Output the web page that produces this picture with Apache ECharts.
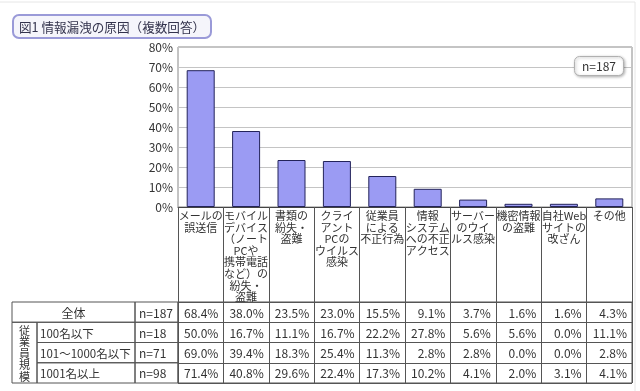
<!DOCTYPE html>
<html><head><meta charset="utf-8">
<script src="https://cdn.jsdelivr.net/npm/echarts@6/dist/echarts.min.js"></script>
<style>html,body{margin:0;padding:0;background:#fff}#c{width:640px;height:391px}</style>
</head><body><div id="c"></div>
<script>
// ---- data ----
const categories = [
  'メールの\n誤送信',
  'モバイル\nデバイス\n（ノート\nPCや\n携帯電話\nなど）の\n紛失・\n盗難',
  '書類の\n紛失・\n盗難',
  'クライ\nアント\nPCの\nウイルス\n感染',
  '従業員\nによる\n不正行為',
  '情報\nシステム\nへの不正\nアクセス',
  'サーバー\nのウイ\nルス感染',
  '機密情報\nの盗難',
  '自社Web\nサイトの\n改ざん',
  'その他'
];
const yTicks = [0, 10, 20, 30, 40, 50, 60, 70, 80];
const rowLabels = ['全体', '100名以下', '101～1000名以下', '1001名以上'];
const rowN = ['n=187', 'n=18', 'n=71', 'n=98'];
const groupLabel = '従業員規模';
const valuesAll   = [68.4, 38.0, 23.5, 23.0, 15.5, 9.1, 3.7, 1.6, 1.6, 4.3];
const values100   = [50.0, 16.7, 11.1, 16.7, 22.2, 27.8, 5.6, 5.6, 0.0, 11.1];
const values1000  = [69.0, 39.4, 18.3, 25.4, 11.3, 2.8, 2.8, 0.0, 0.0, 2.8];
const values1001  = [71.4, 40.8, 29.6, 22.4, 17.3, 10.2, 4.1, 2.0, 3.1, 4.1];
const titleText = '図1 情報漏洩の原因（複数回答）';
const nText = 'n=187';

// ---- build ----
const FONT = '"Noto Sans CJK JP", sans-serif';
const tableRows = [valuesAll, values100, values1000, values1001];
const cellData = [];
tableRows.forEach((row, r) => row.forEach((v, c) => cellData.push([c, r, v])));
const headerData = rowLabels.map((l, i) => [0, i]);
const LINE = '#555';

const chart = echarts.init(document.getElementById('c'), null, {renderer: 'canvas'});
chart.setOption({
  animation: false,
  textStyle: {fontFamily: FONT},
  graphic: [{
    type: 'rect', silent: true, z: -10,
    shape: {x: -2, y: 2, width: 637, height: 400},
    style: {fill: 'none', stroke: '#e6e6e6', lineWidth: 1}
  }],
  title: [{
    text: titleText, left: 13, top: 15,
    padding: [6, 6, 5, 6],
    backgroundColor: '#f5f5fb', borderColor: '#9a9ad8', borderWidth: 2, borderRadius: 6,
    textStyle: {fontFamily: FONT, fontSize: 12.6, fontWeight: 'normal', color: '#33334d'}
  }, {
    text: nText, right: 16, top: 56,
    padding: [4, 8, 4, 8],
    backgroundColor: '#fff', borderColor: '#b0b0b0', borderWidth: 1, borderRadius: 5,
    shadowBlur: 3, shadowColor: 'rgba(0,0,0,0.3)', shadowOffsetX: 1, shadowOffsetY: 1,
    textStyle: {fontFamily: FONT, fontSize: 12, fontWeight: 'normal', color: '#333'}
  }],
  grid: [
    {left: 178, right: 8, top: 47, height: 160, show: true, borderColor: '#888', borderWidth: 1},
    {left: 178, right: 8, top: 302, height: 81, show: true, borderColor: LINE, borderWidth: 1},
    {left: 12, width: 166, top: 302, height: 81, show: false}
  ],
  xAxis: [{
    gridIndex: 0, type: 'category', data: categories,
    axisLine: {show: true, lineStyle: {color: '#444'}},
    axisTick: {show: true, length: 95, interval: 0, lineStyle: {color: LINE}},
    axisLabel: {interval: 0, margin: 3, fontSize: 11, lineHeight: 11.6, color: '#333', fontFamily: FONT},
    splitLine: {show: false}
  }, {
    gridIndex: 1, type: 'category', data: categories,
    axisLine: {show: false}, axisTick: {show: false}, axisLabel: {show: false},
    splitLine: {show: true, interval: 0, lineStyle: {color: LINE}}
  }, {
    gridIndex: 2, type: 'value', min: 0, max: 166, show: false
  }],
  yAxis: [{
    gridIndex: 0, type: 'value', min: 0, max: 80, interval: 10,
    axisLine: {show: false}, axisTick: {show: false},
    axisLabel: {formatter: v => yTicks.includes(v) ? v + '%' : '', fontSize: 12, color: '#333', margin: 5, fontFamily: FONT},
    splitLine: {lineStyle: {color: '#c4c4c4'}}
  }, {
    gridIndex: 1, type: 'category', data: rowLabels, inverse: true,
    axisLine: {show: false}, axisTick: {show: false}, axisLabel: {show: false},
    splitLine: {show: true, interval: 0, lineStyle: {color: LINE}}
  }, {
    gridIndex: 2, type: 'category', data: rowLabels, inverse: true, show: false
  }],
  series: [{
    type: 'bar', xAxisIndex: 0, yAxisIndex: 0, data: valuesAll, barWidth: 28,
    itemStyle: {color: '#9b9bf3', borderColor: '#23235a', borderWidth: 1}
  }, {
    type: 'custom', xAxisIndex: 1, yAxisIndex: 1, data: cellData,
    renderItem: (params, api) => {
      const c = api.coord([api.value(0), api.value(1)]);
      const s = api.size([1, 1]);
      return {type: 'text', style: {
        text: api.value(2).toFixed(1) + '%', x: c[0] + s[0] / 2 - 5, y: c[1] + 1,
        align: 'right', verticalAlign: 'middle', fontSize: 12, fontFamily: FONT, fill: '#333'}};
    }
  }, {
    type: 'custom', xAxisIndex: 2, yAxisIndex: 2, data: headerData,
    renderItem: (params, api) => {
      const r = api.value(1);
      const cy = api.coord([0, r])[1];
      const h = api.size([0, 1])[1];
      const x0 = api.coord([0, r])[0], x1 = api.coord([25, r])[0];
      const x2 = api.coord([123, r])[0], x3 = api.coord([166, r])[0];
      const top = cy - h / 2;
      const st = {fill: 'none', stroke: LINE, lineWidth: 1};
      const ts = {fontSize: 12, fontFamily: FONT, fill: '#333', verticalAlign: 'middle'};
      const ch = [];
      if (r === 0) {
        ch.push({type: 'rect', shape: {x: x0, y: top, width: x2 - x0, height: h}, style: st});
        ch.push({type: 'text', style: Object.assign({text: rowLabels[r], x: (x0 + x2) / 2, y: cy + 1, align: 'center'}, ts)});
      } else {
        ch.push({type: 'rect', shape: {x: x1, y: top, width: x2 - x1, height: h}, style: st});
        ch.push({type: 'text', style: Object.assign({text: rowLabels[r], x: x1 + 3, y: cy + 1, align: 'left'}, ts, {fontSize: 11.5})});
        if (r === 1) {
          ch.push({type: 'rect', shape: {x: x0, y: top, width: x1 - x0, height: h * 3}, style: st});
          const chars = groupLabel.split('');
          const mid = top + h * 1.5 + 1;
          chars.forEach((t, i) => {
            ch.push({type: 'text', style: Object.assign({text: t, x: (x0 + x1) / 2, y: mid + (i - (chars.length - 1) / 2) * 11.6, align: 'center'}, ts, {fontSize: 11})});
          });
        }
      }
      ch.push({type: 'rect', shape: {x: x2, y: top, width: x3 - x2, height: h}, style: st});
      ch.push({type: 'text', style: Object.assign({text: rowN[r], x: x2 + 4, y: cy + 1, align: 'left'}, ts)});
      return {type: 'group', children: ch};
    }
  }]
});
</script></body></html>
